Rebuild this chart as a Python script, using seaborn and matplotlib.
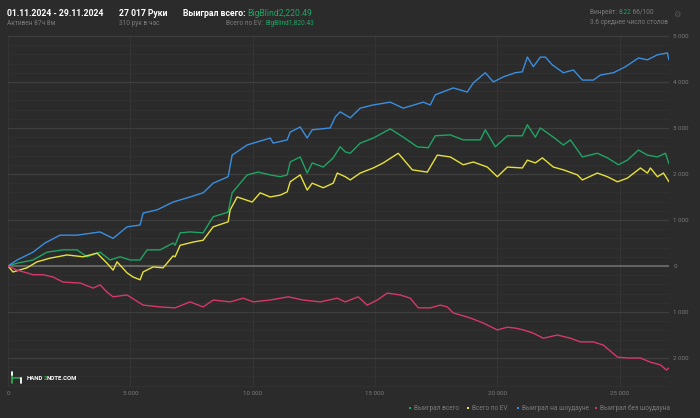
import matplotlib
matplotlib.use("Agg")
import matplotlib.pyplot as plt
import seaborn as sns
import numpy as np
import pandas as pd
from matplotlib.ticker import FixedLocator, MultipleLocator, FuncFormatter

# ---- data (hands, cumulative winnings in big blinds) ----
blue_x = [0, 368, 1022, 1513, 2127, 2822, 3763, 4295, 4867, 5399, 5522, 6094, 6749, 7321,
          7976, 8385, 8998, 9162, 9776, 10716, 10839, 11411, 11534, 11943, 12229, 12434,
          13170, 13375, 13579, 13988, 14397, 14929, 15624, 16156, 16974, 17260, 17464,
          18201, 18773, 19019, 19509, 19837, 20246, 20736, 21023, 21227, 21473, 21759,
          21963, 22249, 22699, 23108, 23477, 23926, 24213, 24745, 25236, 25768, 26136,
          26545, 26953, 27017]
blue_y = [0, 130, 300, 500, 670, 670, 740, 600, 850, 890, 1150, 1220, 1390, 1480,
          1590, 1800, 1940, 2410, 2630, 2780, 2670, 2740, 2910, 3020, 2780, 2960,
          3000, 3240, 3350, 3220, 3430, 3500, 3560, 3430, 3560, 3500, 3720,
          3870, 3780, 3980, 4200, 4000, 4110, 4200, 4220, 4540, 4330, 4540,
          4540, 4370, 4200, 4260, 4040, 4040, 4150, 4200, 4330, 4520, 4480,
          4590, 4630, 4480]

green_x = [0, 368, 1022, 1595, 2250, 2822, 3231, 3763, 4172, 4581, 4990, 5399, 5685, 6217,
           6749, 6830, 7035, 7444, 7976, 8385, 8998, 9162, 9776, 10225, 10716, 11125,
           11411, 11534, 11943, 12229, 12434, 12884, 13293, 13579, 13784, 13988, 14397,
           14929, 15624, 16156, 16728, 17178, 17464, 18078, 18610, 19305, 19509, 19918,
           20409, 21023, 21227, 21554, 21759, 22290, 22699, 22986, 23477, 24090, 24499,
           24950, 25318, 25768, 26136, 26545, 26871, 27017]
green_y = [0, 60, 130, 300, 350, 350, 200, 300, 130, 200, 130, 130, 350, 350,
           500, 450, 720, 740, 720, 1070, 1170, 1590, 1980, 2040, 1980, 1940,
           1980, 2260, 2370, 2020, 2240, 2150, 2350, 2590, 2480, 2450, 2670,
           2780, 2980, 2800, 2590, 2570, 2830, 2850, 2740, 2740, 2960, 2590,
           2830, 2830, 3070, 2800, 3000, 2800, 2630, 2740, 2370, 2450, 2350,
           2200, 2300, 2520, 2410, 2370, 2450, 2220]

yellow_x = [0, 204, 777, 1186, 1718, 2413, 3068, 3640, 4049, 4295, 4458, 4867, 5113, 5399,
            5522, 5931, 6340, 6749, 6830, 7035, 7567, 7976, 8385, 8998, 9080, 9366, 9980,
            10307, 10716, 11125, 11411, 11534, 11943, 12229, 12434, 12884, 13293, 13457,
            13784, 13988, 14397, 14929, 15338, 15951, 16524, 17137, 17546, 18078, 18610,
            19019, 19591, 20000, 20409, 21023, 21227, 21554, 21841, 22290, 22699, 23272,
            23477, 24090, 24499, 24909, 25318, 25850, 26136, 26258, 26545, 26790, 27017]
yellow_y = [0, -130, -40, 90, 170, 240, 200, 280, 60, -90, 90, -150, -240, -300,
            -130, -20, -40, 220, 200, 450, 520, 560, 850, 960, 1220, 1500, 1390,
            1590, 1500, 1540, 1610, 1830, 1980, 1650, 1800, 1700, 1800, 2020,
            1940, 1870, 2020, 2130, 2240, 2450, 2090, 2040, 2410, 2370, 2200,
            2260, 2150, 1940, 2150, 2130, 2300, 2240, 2350, 2150, 2090, 1980,
            1870, 2020, 1940, 1830, 1910, 2130, 2020, 2130, 1940, 2020, 1830]

red_x = [0, 368, 777, 1022, 1431, 1840, 2250, 2945, 3477, 3763, 4049, 4295, 4867, 5522,
         6217, 6830, 7444, 7976, 8385, 9080, 9612, 10021, 10716, 11452, 12066, 12761,
         13457, 13784, 14315, 14683, 15092, 15501, 16033, 16442, 16769, 17260, 17669,
         17955, 18201, 18896, 19428, 20000, 20409, 20736, 21064, 21473, 21882, 22454,
         22986, 23395, 23926, 24336, 24909, 25318, 25850, 26258, 26667, 26912, 27017]
red_y = [0, -90, -150, -190, -190, -240, -350, -370, -480, -410, -570, -670, -630, -850,
         -890, -910, -780, -890, -740, -780, -700, -780, -740, -670, -740, -780,
         -700, -780, -670, -850, -740, -590, -630, -700, -910, -910, -850,
         -890, -1020, -1130, -1240, -1390, -1330, -1350, -1390, -1460, -1570, -1500,
         -1570, -1650, -1650, -1720, -1980, -2000, -2000, -2090, -2150, -2260, -2220]

series_names = ["Выиграл всего", "Всего по EV", "Выиграл на шоудауне", "Выиграл без шоудауна"]
series_colors = ["#1fa463", "#e6e13a", "#3b8ede", "#d6386a"]
x_ticks = [0, 5000, 10000, 15000, 20000, 25000]
y_ticks = [-2000, -1000, 0, 1000, 2000, 3000, 4000, 5000]

frames = []
for name, xs, ys in zip(series_names, [green_x, yellow_x, blue_x, red_x],
                        [green_y, yellow_y, blue_y, red_y]):
    frames.append(pd.DataFrame({"hands": xs, "bb": ys, "series": name}))
df = pd.concat(frames, ignore_index=True)

BG = "#2b2b2b"
GRAY = "#7a7a7a"
GREEN = "#1fa463"
FONT = ["Roboto", "DejaVu Sans"]

sns.set_theme(style="dark")
plt.rcParams["font.family"] = FONT

fig = plt.figure(figsize=(7, 4.18), dpi=100, facecolor=BG)
W, H = 700, 418
ax = fig.add_axes([8 / W, 1 - 387 / H, (669 - 8) / W, (387 - 35) / H])
ax.set_facecolor(BG)

sns.lineplot(data=df, x="hands", y="bb", hue="series", hue_order=series_names,
             palette=dict(zip(series_names, series_colors)), estimator=None,
             sort=False, linewidth=1.0, legend=False, ax=ax, zorder=3)

ax.set_xlim(0, 27017)
ax.set_ylim(-2630, 5020)
ax.xaxis.set_major_locator(FixedLocator(x_ticks))
ax.yaxis.set_major_locator(FixedLocator(y_ticks))
ax.yaxis.set_minor_locator(MultipleLocator(200))
fmt = FuncFormatter(lambda v, p: f"{abs(int(v)):,}".replace(",", " "))
ax.xaxis.set_major_formatter(fmt)
ax.yaxis.set_major_formatter(fmt)
ax.yaxis.tick_right()
ax.tick_params(axis="both", which="both", length=0, colors=GRAY, labelsize=4.5)
ax.tick_params(axis="y", pad=3)
ax.tick_params(axis="x", pad=3)
ax.grid(True, axis="y", which="major", color="#3e3e3e", linewidth=0.9)
ax.grid(True, axis="y", which="minor", color="#323232", linewidth=0.6)
ax.grid(True, axis="x", which="major", color="#343434", linewidth=0.8)
ax.axhline(0, color="#656565", linewidth=1.4, zorder=2)
ax.set_xlabel("")
ax.set_ylabel("")
for s in ax.spines.values():
    s.set_visible(False)

# ---- overlay for header, logo and legend (pixel coordinates) ----
ov = fig.add_axes([0, 0, 1, 1], zorder=5)
ov.set_xlim(0, W)
ov.set_ylim(H, 0)
ov.axis("off")
ov.patch.set_alpha(0)

HS = 6.2
SS = 4.7
ov.text(7, 16, "01.11.2024 - 29.11.2024", color="white", fontsize=HS,
        fontweight="bold", va="baseline")
ov.text(7, 25, "Активен 87ч 8м", color=GRAY, fontsize=SS, va="baseline")
ov.text(119, 16, "27 017 Руки", color="white", fontsize=HS, fontweight="bold", va="baseline")
ov.text(119, 25, "310 рук в час", color=GRAY, fontsize=SS, va="baseline")

t = ov.text(183, 16, "Выиграл всего: ", color="white", fontsize=HS,
            fontweight="bold", va="baseline")
ov.annotate("BigBlind2,220.49", xy=(1, 0), xycoords=t, color=GREEN, fontsize=HS,
            va="bottom", ha="left")
t2 = ov.text(314, 25, "BigBlind1,820.43", color=GREEN, fontsize=SS, va="baseline", ha="right")
ov.annotate("Всего по EV: ", xy=(0, 0), xycoords=t2, color=GRAY, fontsize=SS,
            va="bottom", ha="right")

t3 = ov.text(590, 14, "Винрейт: ", color=GRAY, fontsize=SS, va="baseline")
t4 = ov.annotate("8.22", xy=(1, 0), xycoords=t3, color=GREEN, fontsize=SS,
                 va="bottom", ha="left")
ov.annotate(" 66/100", xy=(1, 0), xycoords=t4, color=GRAY, fontsize=SS,
            va="bottom", ha="left")
ov.text(590, 24, "3.6 среднее число столов", color=GRAY, fontsize=SS, va="baseline")
ov.text(677, 14, "\u2699", color="#555555", fontsize=6, ha="center", va="center",
        family="DejaVu Sans")

# logo
ov.plot([12, 12], [373, 383], color="#2fa84f", lw=1.3)
ov.plot([12, 21], [378, 378], color="#2fa84f", lw=1.1)
ov.plot([21, 21], [378, 383], color="white", lw=1.3)
ov.plot([12, 12], [372, 375], color="white", lw=1.3)
lg = ov.text(27, 380.5, "HAND", color="white", fontsize=4.3, fontweight="bold", va="baseline")
lg2 = ov.annotate("2", xy=(1, 0), xycoords=lg, color="#2fa84f", fontsize=4.3,
                  fontweight="bold", va="bottom", ha="left")
ov.annotate("NOTE.COM", xy=(1, 0), xycoords=lg2, color="white", fontsize=4.3,
            fontweight="bold", va="bottom", ha="left")

# custom legend along the bottom
leg_x = [410, 468, 518, 596]
for lx, name, col in zip(leg_x, series_names, series_colors):
    ov.scatter([lx], [408], marker="s", s=2.5, color=col, linewidths=0)
    ov.text(lx + 4, 410, name, color=GRAY, fontsize=SS, va="baseline")

fig.savefig("out.png", dpi=100, facecolor=BG)
